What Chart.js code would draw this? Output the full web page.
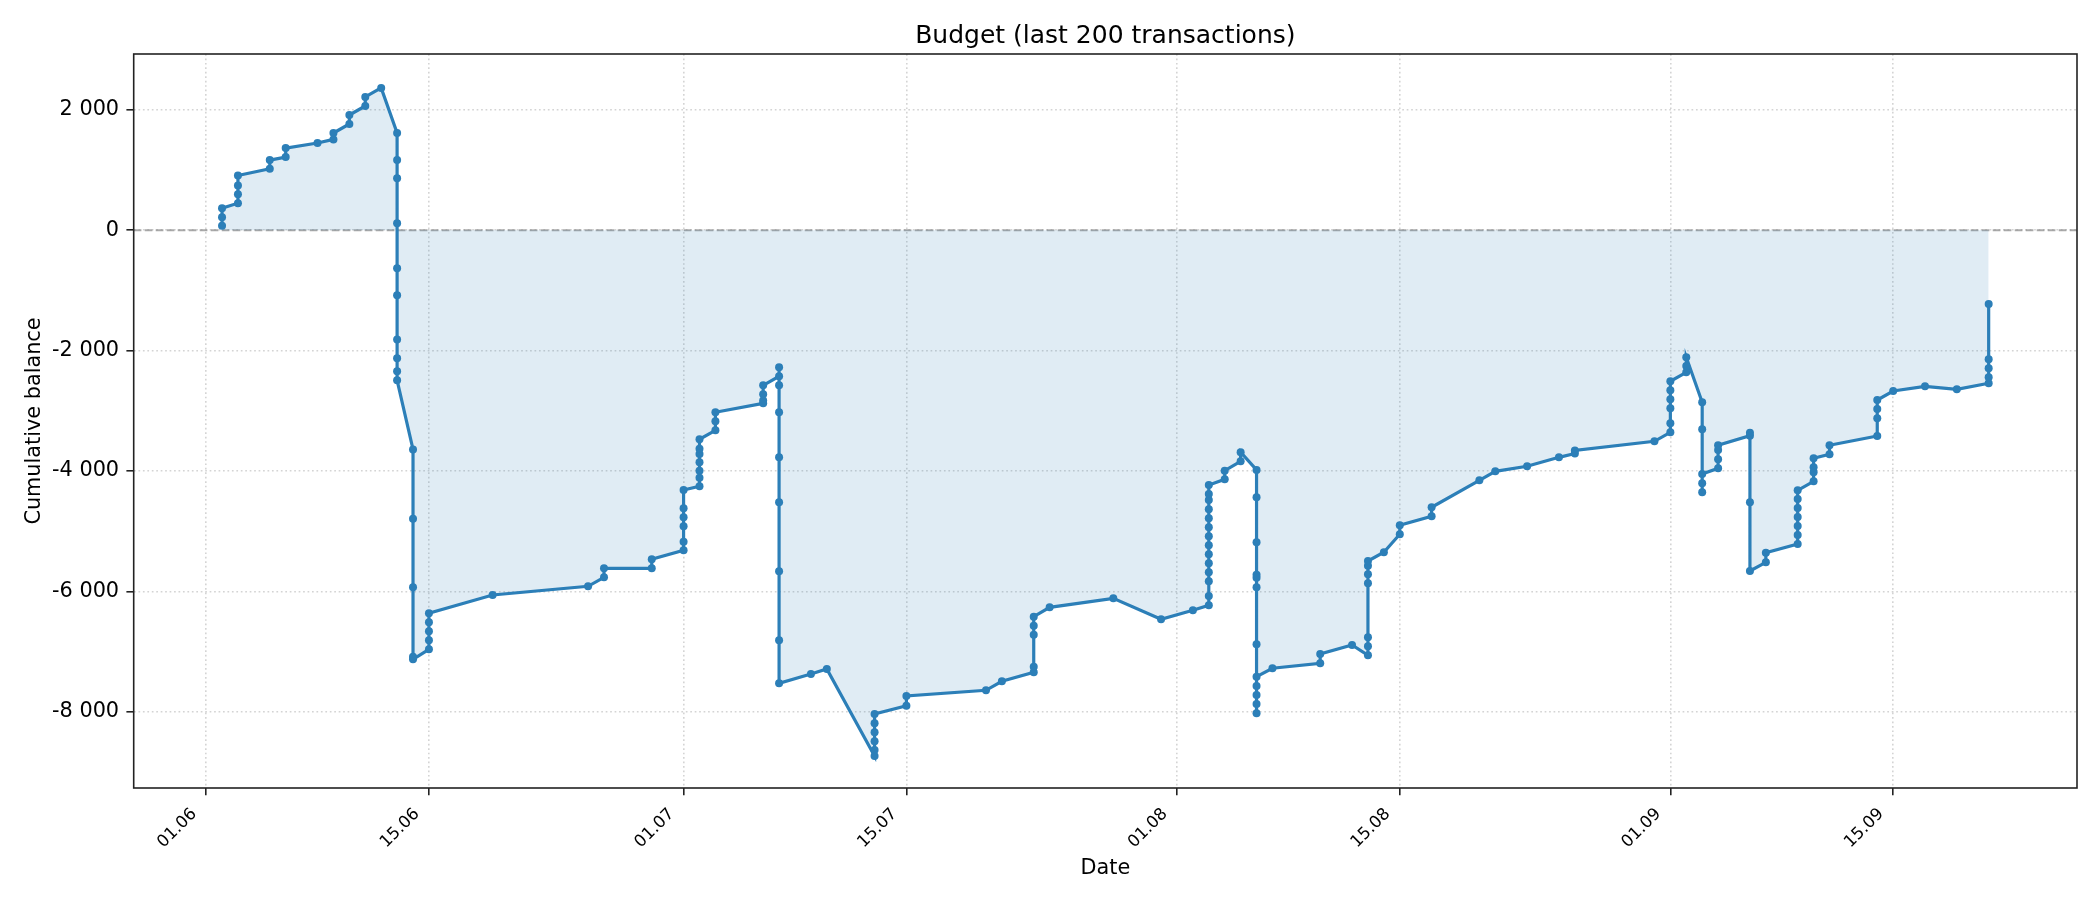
<!DOCTYPE html>
<html>
<head>
<meta charset="utf-8">
<script src="https://cdn.jsdelivr.net/npm/chart.js@4.4.1/dist/chart.umd.min.js"></script>
<style>
  html, body { margin: 0; padding: 0; background: #ffffff; }
  #wrap { width: 2100px; height: 900px; }
</style>
</head>
<body>
<div id="wrap"><canvas id="c" width="2100" height="900"></canvas></div>
<script>
// Day offsets from 01.06 for each transaction (x) and cumulative balance (y)
const txDay = [
  1,1,1,
  2,2,2,2,
  4,4,
  5,5,
  7,
  8,8,
  9,9,
  10,10,
  11,
  12,12,12,12,12,12,12,12,12,12,
  13,13,13,13,13,
  14,14,14,14,14,
  18,
  24,
  25,25,
  28,28,
  30,30,30,30,30,30,
  31,31,31,31,31,31,31,
  32,32,32,
  35,35,35,35,
  36,36,36,36,36,36,36,36,36,
  38,
  39,
  42,42,42,42,42,42,
  44,44,
  49,
  50,
  52,52,52,52,52,
  53,
  57,
  60,
  62,
  63,63,63,63,63,63,63,63,63,63,63,63,63,63,
  64,64,
  65,65,
  66,66,66,66,66,66,66,66,66,66,66,66,
  67,
  70,70,
  72,
  73,73,73,73,73,73,73,
  74,
  75,75,
  77,77,
  80,
  81,
  83,
  85,
  86,86,
  91,
  92,92,92,92,92,92,
  93,93,93,
  94,94,94,94,94,
  95,95,95,95,
  97,97,97,97,
  98,98,
  100,100,100,100,100,100,100,
  101,101,101,101,
  102,102,
  105,105,105,105,
  106,
  108,
  110,
  112,112,112,112,112
];
const balance = [
  72, 216, 366,
  449, 599, 742, 909,
  1020, 1165,
  1215, 1364,
  1448,
  1508, 1614,
  1764, 1913,
  2063, 2213,
  2363,
  1614, 1165, 865, 116, -632, -1082, -1814, -2127, -2343, -2493,
  -3643, -4793, -5932, -7085, -7128,
  -6962, -6812, -6663, -6513, -6364,
  -6060,
  -5915,
  -5766, -5616,
  -5616, -5467,
  -5317, -5174, -4919, -4769, -4619, -4316,
  -4254, -4111, -3995, -3856, -3718, -3630, -3473,
  -3324, -3174, -3025,
  -2876, -2830, -2726, -2577,
  -2427, -2278, -2577, -3025, -3773, -4520, -5666, -6812, -7527,
  -7372,
  -7289,
  -8734, -8635, -8490, -8341, -8191, -8037,
  -7899, -7738,
  -7643,
  -7494,
  -7344, -7251, -6719, -6570, -6420,
  -6265,
  -6115,
  -6464,
  -6314,
  -6231, -6076, -5832, -5683, -5533, -5384, -5234, -5085, -4935, -4786, -4637, -4482, -4382, -4233,
  -4138, -3995,
  -3839, -3689,
  -3983, -4437, -5184, -5722, -5774, -5932, -6879, -8025, -7870, -7721, -7571, -7417,
  -7277,
  -7195, -7040,
  -6890,
  -7062, -6912, -6762, -5866, -5716, -5573, -5495,
  -5350,
  -5051, -4902,
  -4752, -4603,
  -4155,
  -4005,
  -3922,
  -3773,
  -3710, -3660,
  -3507,
  -3357, -3208, -2958, -2809, -2659, -2510,
  -2360, -2256, -2111,
  -2859, -3307, -4354, -4205, -4050,
  -3955, -3806, -3651, -3573,
  -3414, -3364, -4520, -5661,
  -5517, -5357,
  -5213, -5063, -4914, -4764, -4615, -4465, -4321,
  -4171, -4022, -3939, -3789,
  -3723, -3573,
  -3419, -3125, -2970, -2821,
  -2671,
  -2593,
  -2643,
  -2543, -2443, -2294, -2145, -1226
];
const xTickDays = [0, 14, 30, 44, 61, 75, 92, 106];
const xTickLabels = ['01.06', '15.06', '01.07', '15.07', '01.08', '15.08', '01.09', '15.09'];
const yTicks = [-8000, -6000, -4000, -2000, 0, 2000];
const yTickLabels = ['-8 000', '-6 000', '-4 000', '-2 000', '0', '2 000'];
const xMin = -4.55, xMax = 117.55;
const yMin = -9266, yMax = 2927;

Chart.defaults.font.family = "'DejaVu Sans', sans-serif";
Chart.defaults.color = '#000000';

const points = txDay.map((d, i) => ({ x: d, y: balance[i] }));

const framePlugin = {
  id: 'frame',
  afterDatasetsDraw(chart) {
    const a = chart.chartArea, ctx = chart.ctx;
    ctx.save();
    ctx.strokeStyle = '#222222';
    ctx.lineWidth = 1.6;
    ctx.setLineDash([]);
    ctx.strokeRect(a.left, a.top, a.right - a.left, a.bottom - a.top);
    ctx.restore();
  }
};

new Chart(document.getElementById('c'), {
  type: 'line',
  data: {
    datasets: [
      {
        label: 'Cumulative balance',
        data: points,
        borderColor: '#2c7fb8',
        backgroundColor: 'rgba(44,127,184,0.15)',
        borderWidth: 3.2,
        pointRadius: 4,
        pointBorderWidth: 0,
        pointBackgroundColor: '#2c7fb8',
        pointBorderColor: '#2c7fb8',
        fill: 'origin',
        tension: 0,
        order: 0
      },
      {
        label: 'zero',
        data: [{ x: xMin, y: 0 }, { x: xMax, y: 0 }],
        borderColor: 'rgba(140,140,140,0.75)',
        borderWidth: 2,
        borderDash: [7.7, 3.3],
        pointRadius: 0,
        fill: false,
        order: 1
      }
    ]
  },
  options: {
    responsive: false,
    animation: false,
    devicePixelRatio: 1,
    layout: { padding: { left: 0, right: 23, top: 0, bottom: 0 } },
    plugins: {
      legend: { display: false },
      tooltip: { enabled: false },
      title: {
        display: true,
        fullSize: false,
        text: 'Budget (last 200 transactions)',
        font: { size: 25, weight: 'normal' },
        color: '#000000',
        padding: { top: 21, bottom: 3 }
      }
    },
    scales: {
      x: {
        type: 'linear',
        min: xMin,
        max: xMax,
        afterBuildTicks(scale) { scale.ticks = xTickDays.map(v => ({ value: v })); },
        afterFit(scale) { scale.height = 112; },
        ticks: {
          autoSkip: false,
          minRotation: 45,
          maxRotation: 45,
          padding: 9,
          labelOffset: -12,
          font: { size: 16.7 },
          color: '#000000',
          callback(value) { const i = xTickDays.indexOf(value); return i >= 0 ? xTickLabels[i] : ''; }
        },
        grid: {
          color: 'rgba(176,176,176,0.55)',
          lineWidth: 1.6,
          tickColor: '#222222',
          tickLength: 7.3,
          tickWidth: 1.6,
          tickBorderDash: []
        },
        border: { display: false, dash: [1.7, 2.75] },
        title: {
          display: true,
          text: 'Date',
          font: { size: 20.8 },
          color: '#000000',
          padding: { top: 0, bottom: 19 }
        }
      },
      y: {
        type: 'linear',
        min: yMin,
        max: yMax,
        afterBuildTicks(scale) { scale.ticks = yTicks.map(v => ({ value: v })); },
        afterFit(scale) { scale.width = 133.7; },
        ticks: {
          padding: 7.3,
          font: { size: 20.8 },
          color: '#000000',
          callback(value) { const i = yTicks.indexOf(value); return i >= 0 ? yTickLabels[i] : ''; }
        },
        grid: {
          color: 'rgba(176,176,176,0.55)',
          lineWidth: 1.6,
          tickColor: '#222222',
          tickLength: 7.3,
          tickWidth: 1.6,
          tickBorderDash: []
        },
        border: { display: false, dash: [1.7, 2.75] },
        title: {
          display: true,
          text: 'Cumulative balance',
          font: { size: 20.8 },
          color: '#000000',
          padding: { top: 22, bottom: 0 }
        }
      }
    }
  },
  plugins: [framePlugin]
});
</script>
</body>
</html>
